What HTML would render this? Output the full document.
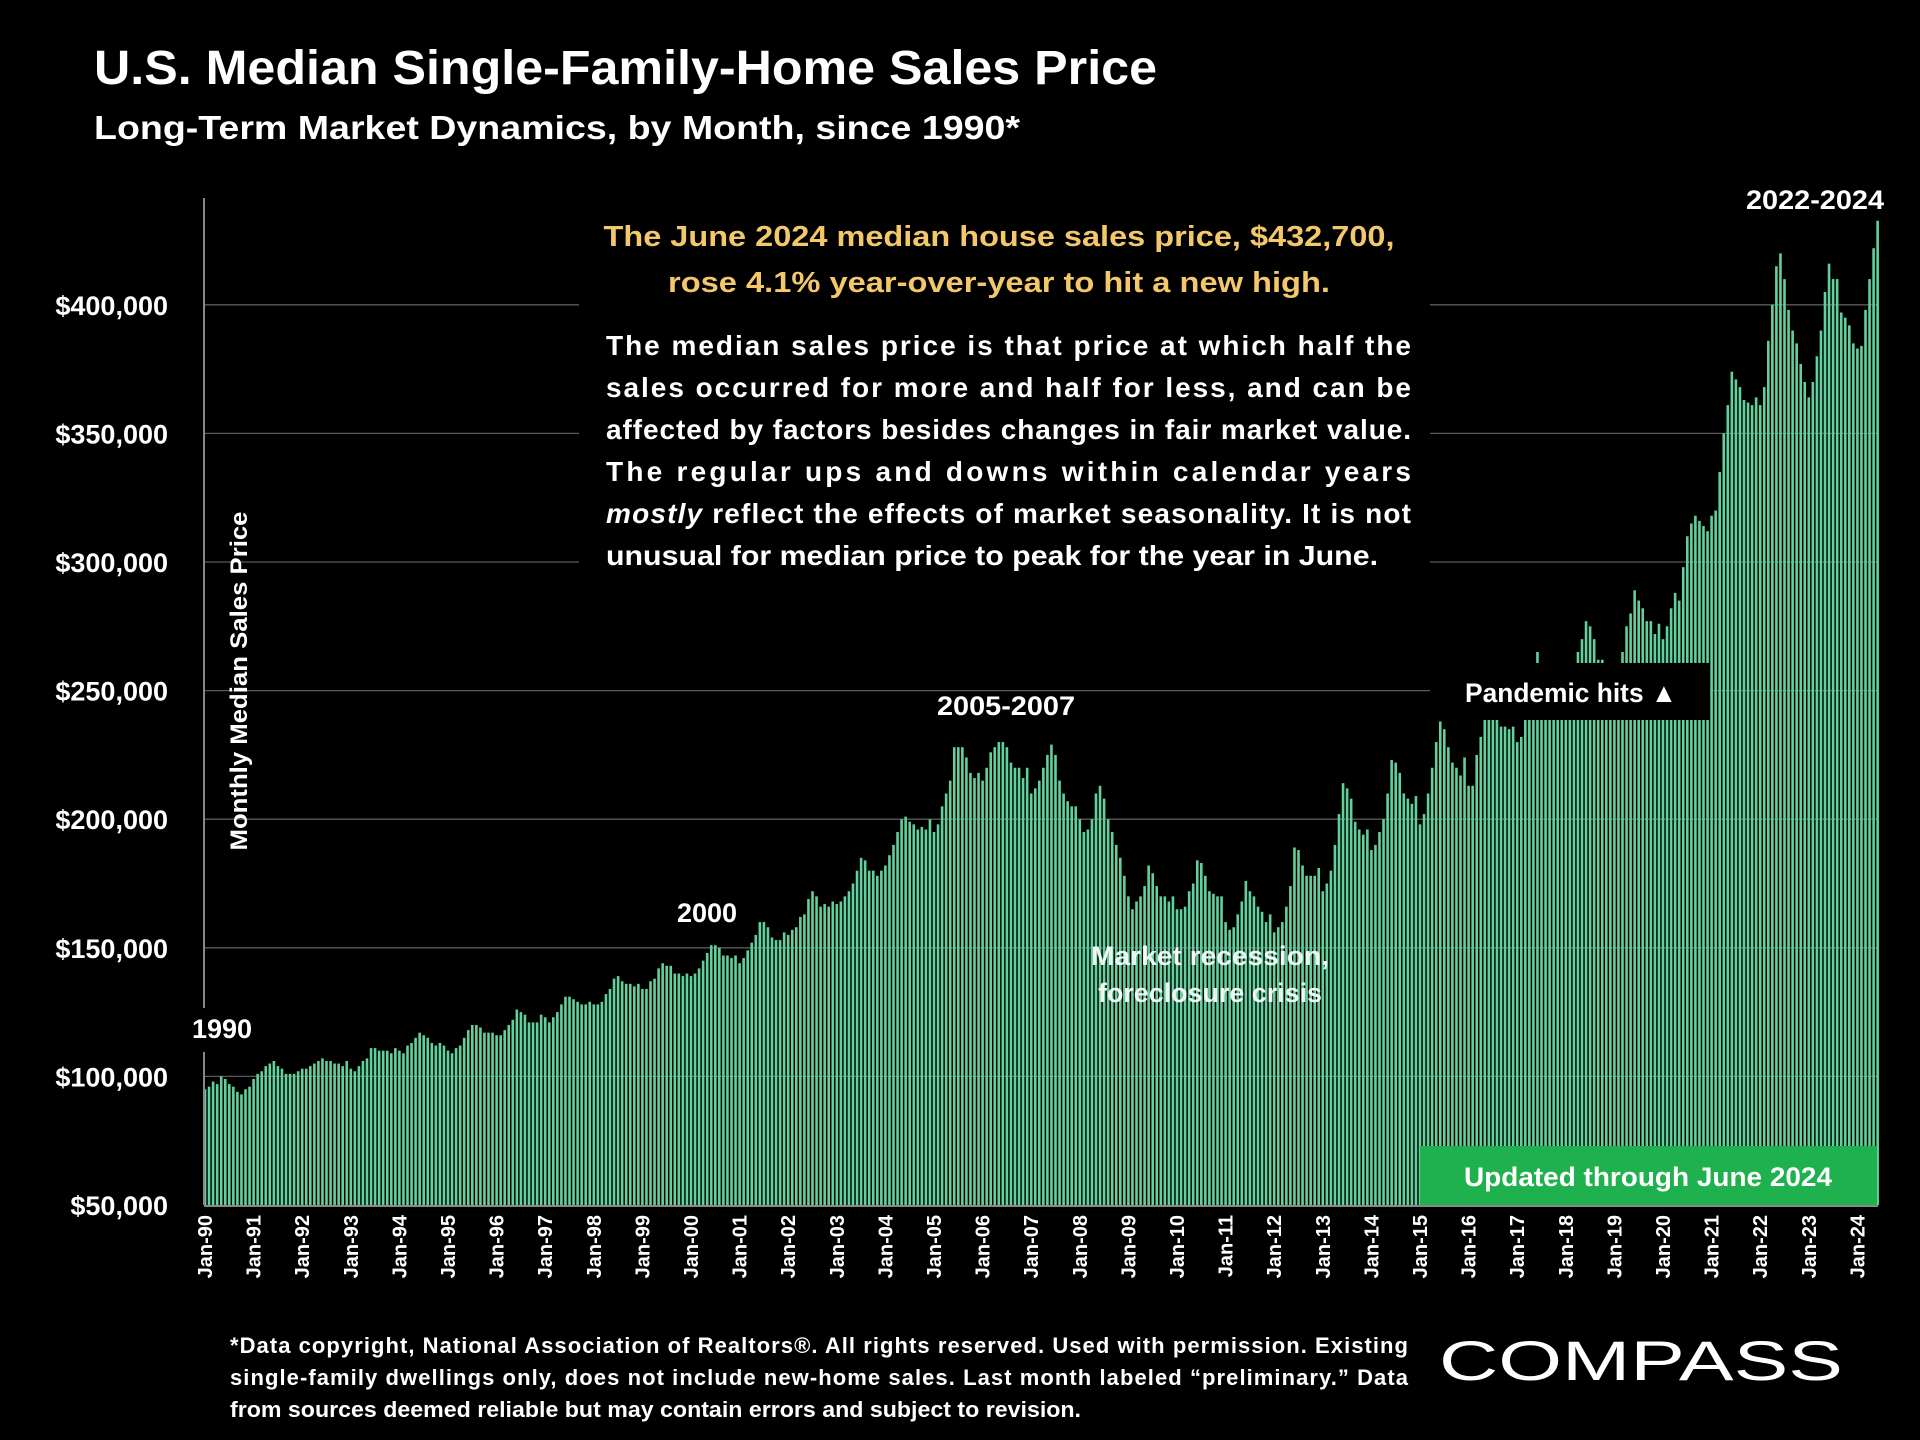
<!DOCTYPE html>
<html><head><meta charset="utf-8"><style>
html,body{margin:0;padding:0;background:#000;}
svg{display:block;font-family:"Liberation Sans",sans-serif;}
</style></head><body>
<svg id="chart" width="1920" height="1440" viewBox="0 0 1920 1440" xmlns="http://www.w3.org/2000/svg">
<rect width="1920" height="1440" fill="#000"/>
<text x="94" y="84" fill="#fff" font-size="48" font-weight="bold" textLength="1063" lengthAdjust="spacingAndGlyphs">U.S. Median Single-Family-Home Sales Price</text>
<text x="94" y="139" fill="#fff" font-size="33" font-weight="bold" textLength="926" lengthAdjust="spacingAndGlyphs">Long-Term Market Dynamics, by Month, since 1990*</text>
<g id="grid"></g>
<g id="bars"></g>
<g id="yaxis"></g>
<g id="xaxis"></g>
<rect x="579" y="196" width="851" height="380" fill="#000"/>
<text x="999" y="246" fill="#f3c86b" font-size="29" font-weight="bold" text-anchor="middle" textLength="791" lengthAdjust="spacingAndGlyphs">The June 2024 median house sales price, $432,700,</text>
<text x="999" y="292" fill="#f3c86b" font-size="29" font-weight="bold" text-anchor="middle" textLength="662" lengthAdjust="spacingAndGlyphs">rose 4.1% year-over-year to hit a new high.</text>
<g fill="#fff" font-size="28" font-weight="bold">
<text x="606" y="355" textLength="805" lengthAdjust="spacing">The median sales price is that price at which half the</text>
<text x="606" y="397" textLength="805" lengthAdjust="spacing">sales occurred for more and half for less, and can be</text>
<text x="606" y="439" textLength="805" lengthAdjust="spacing">affected by factors besides changes in fair market value.</text>
<text x="606" y="481" textLength="805" lengthAdjust="spacing">The regular ups and downs within calendar years</text>
<text x="606" y="523" textLength="805" lengthAdjust="spacing"><tspan font-style="italic">mostly</tspan> reflect the effects of market seasonality. It is not</text>
<text x="606" y="565" textLength="772" lengthAdjust="spacingAndGlyphs">unusual for median price to peak for the year in June.</text>
</g>
<rect x="1430" y="663" width="280" height="57" fill="#000"/>
<text x="1571" y="702" fill="#fff" font-size="27" font-weight="bold" text-anchor="middle" textLength="212" lengthAdjust="spacingAndGlyphs">Pandemic hits ▲</text>
<text x="239" y="681" fill="#fff" font-size="24" font-weight="bold" text-anchor="middle" transform="rotate(-90 239 681)" dy="8" textLength="339" lengthAdjust="spacingAndGlyphs">Monthly Median Sales Price</text>
<rect x="196" y="1008" width="58" height="44" fill="#000"/>
<text x="222" y="1038" fill="#fff" font-size="27" font-weight="bold" text-anchor="middle">1990</text>
<text x="707" y="922" fill="#fff" font-size="27" font-weight="bold" text-anchor="middle">2000</text>
<text x="1006" y="715" fill="#fff" font-size="27" font-weight="bold" text-anchor="middle" textLength="138" lengthAdjust="spacingAndGlyphs">2005-2007</text>
<text x="1210" y="965" fill="#fff" fill-opacity="0.92" font-size="27" font-weight="bold" text-anchor="middle" textLength="238" lengthAdjust="spacingAndGlyphs">Market recession,</text>
<text x="1210" y="1002" fill="#fff" fill-opacity="0.92" font-size="27" font-weight="bold" text-anchor="middle" textLength="224" lengthAdjust="spacingAndGlyphs">foreclosure crisis</text>
<text x="1815" y="209" fill="#fff" font-size="27" font-weight="bold" text-anchor="middle" textLength="138" lengthAdjust="spacingAndGlyphs">2022-2024</text>
<rect x="1420" y="1146" width="457" height="59" fill="#1fb14e"/>
<text x="1648" y="1186" fill="#fff" font-size="27" font-weight="bold" text-anchor="middle" textLength="368" lengthAdjust="spacingAndGlyphs">Updated through June 2024</text>
<g fill="#fff" font-size="22" font-weight="bold">
<text x="230" y="1353" textLength="1178" lengthAdjust="spacing">*Data copyright, National Association of Realtors®. All rights reserved. Used with permission. Existing</text>
<text x="230" y="1385" textLength="1178" lengthAdjust="spacing">single-family dwellings only, does  not include new-home sales. Last month labeled “preliminary.” Data</text>
<text x="230" y="1417" textLength="851" lengthAdjust="spacingAndGlyphs">from sources deemed reliable but may contain errors and subject to revision.</text>
</g>
<text x="1439" y="1380" fill="#fff" font-size="56" textLength="404" lengthAdjust="spacingAndGlyphs">COMPASS</text>
</svg>
<script>
const yTicks = [50000,100000,150000,200000,250000,300000,350000,400000];
const yTickLabels = ["$50,000","$100,000","$150,000","$200,000","$250,000","$300,000","$350,000","$400,000"];
const years = ["90","91","92","93","94","95","96","97","98","99","00","01","02","03","04","05","06","07","08","09","10","11","12","13","14","15","16","17","18","19","20","21","22","23","24"];
const prices = [
95,96,98,97,100,99,97,96,94,93,95,96,
99,101,102,104,105,106,104,103,101,101,101,102,
103,103,104,105,106,107,106,106,105,105,104,106,
103,102,104,106,107,111,111,110,110,110,109,111,
110,109,112,113,115,117,116,115,113,112,113,112,
110,109,111,112,115,118,120,120,119,117,117,117,
116,116,118,120,122,126,125,124,121,121,121,124,
123,121,123,125,128,131,131,130,129,128,128,129,
128,128,129,132,134,138,139,137,136,136,135,136,
134,134,137,138,142,144,143,143,140,140,139,140,
139,140,142,145,148,151,151,150,147,147,146,147,
144,146,149,152,155,160,160,158,154,153,153,156,
155,157,158,162,163,169,172,170,166,167,166,168,
167,168,170,172,175,180,185,184,180,180,178,180,
182,186,190,195,200,201,199,198,196,197,196,200,
195,198,205,210,215,228,228,228,224,218,216,218,
215,220,226,228,230,230,228,222,220,220,216,220,
210,212,215,220,225,229,225,215,210,207,205,205,
200,195,196,200,210,213,208,200,195,190,185,178,
170,165,168,170,174,182,179,174,170,170,168,170,
165,165,166,172,175,184,183,178,172,171,170,170,
160,157,158,163,168,176,172,170,166,164,160,163,
156,158,160,166,174,189,188,182,178,178,178,181,
172,175,180,190,202,214,212,208,199,196,194,196,
188,190,195,200,210,223,222,218,210,208,206,209,
198,202,210,220,230,238,235,228,222,220,217,224,
213,213,225,232,240,247,245,240,236,236,235,236,
230,232,240,250,258,265,260,256,250,248,249,252,
245,248,255,265,270,277,275,270,262,262,260,260,
255,258,265,275,280,289,285,282,277,277,272,276,
270,275,282,288,285,298,310,315,318,316,314,312,
318,320,335,350,361,374,371,368,363,362,361,364,
361,368,386,400,415,420,410,398,390,385,377,370,
364,370,380,390,405,416,410,410,397,395,392,385,
383,384,398,410,422,432.7
];
const NS="http://www.w3.org/2000/svg";
const x0=205, slot=4.05, yBase=1205;
function yScale(v){return yBase-(v-50000)/50000*128.6;}
function xScale(i){return x0+i*slot;}
function mk(tag,attrs,parent){const e=document.createElementNS(NS,tag);for(const k in attrs)e.setAttribute(k,attrs[k]);parent.appendChild(e);return e;}
const grid=document.getElementById('grid'),bars=document.getElementById('bars'),ya=document.getElementById('yaxis'),xa=document.getElementById('xaxis');
yTicks.forEach((t,i)=>{
  const y=yScale(t);
  if(i>0){const g=mk('line',{x1:205,x2:1878,y1:y,y2:y,stroke:'#5a5a5a','stroke-width':1.3},grid);
  
  }
  const l=mk('text',{x:168,y:y+10,fill:'#fff','font-size':27,'font-weight':'bold','text-anchor':'end'},ya);
  l.textContent=yTickLabels[i];
  
  
});
prices.forEach((p,i)=>{
  const y=yScale(p*1000);
  const r=mk('rect',{x:xScale(i)-1.3,y:y,width:2.6,height:yBase-y,fill:'#62d09b'},bars);
  
  
});
const ax=mk('line',{x1:204,x2:204,y1:198,y2:1205,stroke:'#888','stroke-width':2},ya);


const bx=mk('line',{x1:204,x2:1878,y1:1206,y2:1206,stroke:'#888','stroke-width':2},xa);


years.forEach((yr,k)=>{
  const x=xScale(k*12);
  const t=mk('text',{x:0,y:0,fill:'#fff','font-size':20,'font-weight':'bold','text-anchor':'end',transform:'translate('+(x+7)+',1215) rotate(-90)'},xa);
  t.textContent='Jan-'+yr;
  
  
});
</script>
</body></html>
